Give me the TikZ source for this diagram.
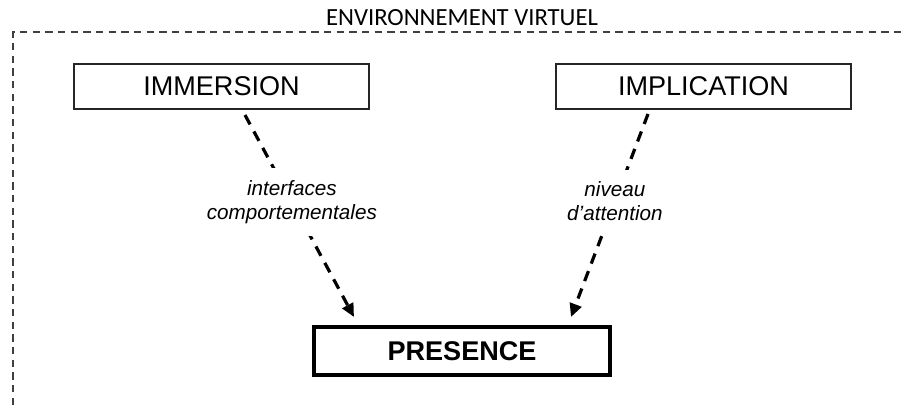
\documentclass[tikz,border=0pt]{standalone}
\usepackage{fontspec}
\setmainfont{Liberation Sans}
\newfontfamily\titlefont{Carlito}
\usetikzlibrary{arrows.meta}
\tikzset{
  box/.style={draw=black!85, line width=1.2pt, minimum width=221pt, minimum height=33.75pt, inner sep=0pt, font=\fontsize{20.3pt}{24pt}\selectfont},
  mainbox/.style={draw=black, line width=2.6pt, minimum width=222pt, minimum height=36pt, inner sep=0pt, font=\fontsize{20.3pt}{24pt}\selectfont\bfseries},
  frame/.style={draw=black!75, line width=1.1pt, dash pattern=on 5.5pt off 4pt},
  arr/.style={draw=black, line width=2.4pt, dash pattern=on 8pt off 6pt, -{Triangle[length=10pt,width=9pt]}},
  lab/.style={fill=white, align=center, inner xsep=3pt, inner ysep=9pt, font=\fontsize{15.5pt}{18pt}\selectfont\itshape},
}
\begin{document}
\begin{tikzpicture}[x=0.75pt,y=-0.75pt]
\useasboundingbox (0,0) rectangle (902,405);
\node[font=\titlefont\fontsize{18.5pt}{22pt}\selectfont] (title) at (462,18) {ENVIRONNEMENT VIRTUEL};
\coordinate (fbl) at (13,405);
\coordinate (ftl) at (13,32);
\coordinate (ftr) at (902,32);
\draw[frame] (fbl) -- (ftl) -- (ftr);
\node[box] (imm) at (221.5,86.5) {IMMERSION};
\node[box] (impl) at (703.5,86.5) {IMPLICATION};
\node[mainbox] (pres) at (462,351) {PRESENCE};
\coordinate (a1) at (245,115);
\coordinate (a2) at (354,317);
\coordinate (b1) at (648,114);
\coordinate (b2) at (571,317);
\draw[arr] (a1) -- (a2) node[lab, pos=0.43] (l1) {interfaces\\comportementales};
\draw[arr] (b1) -- (b2) node[lab, pos=0.43] (l2) {niveau\\d’attention};
\end{tikzpicture}
\end{document}
